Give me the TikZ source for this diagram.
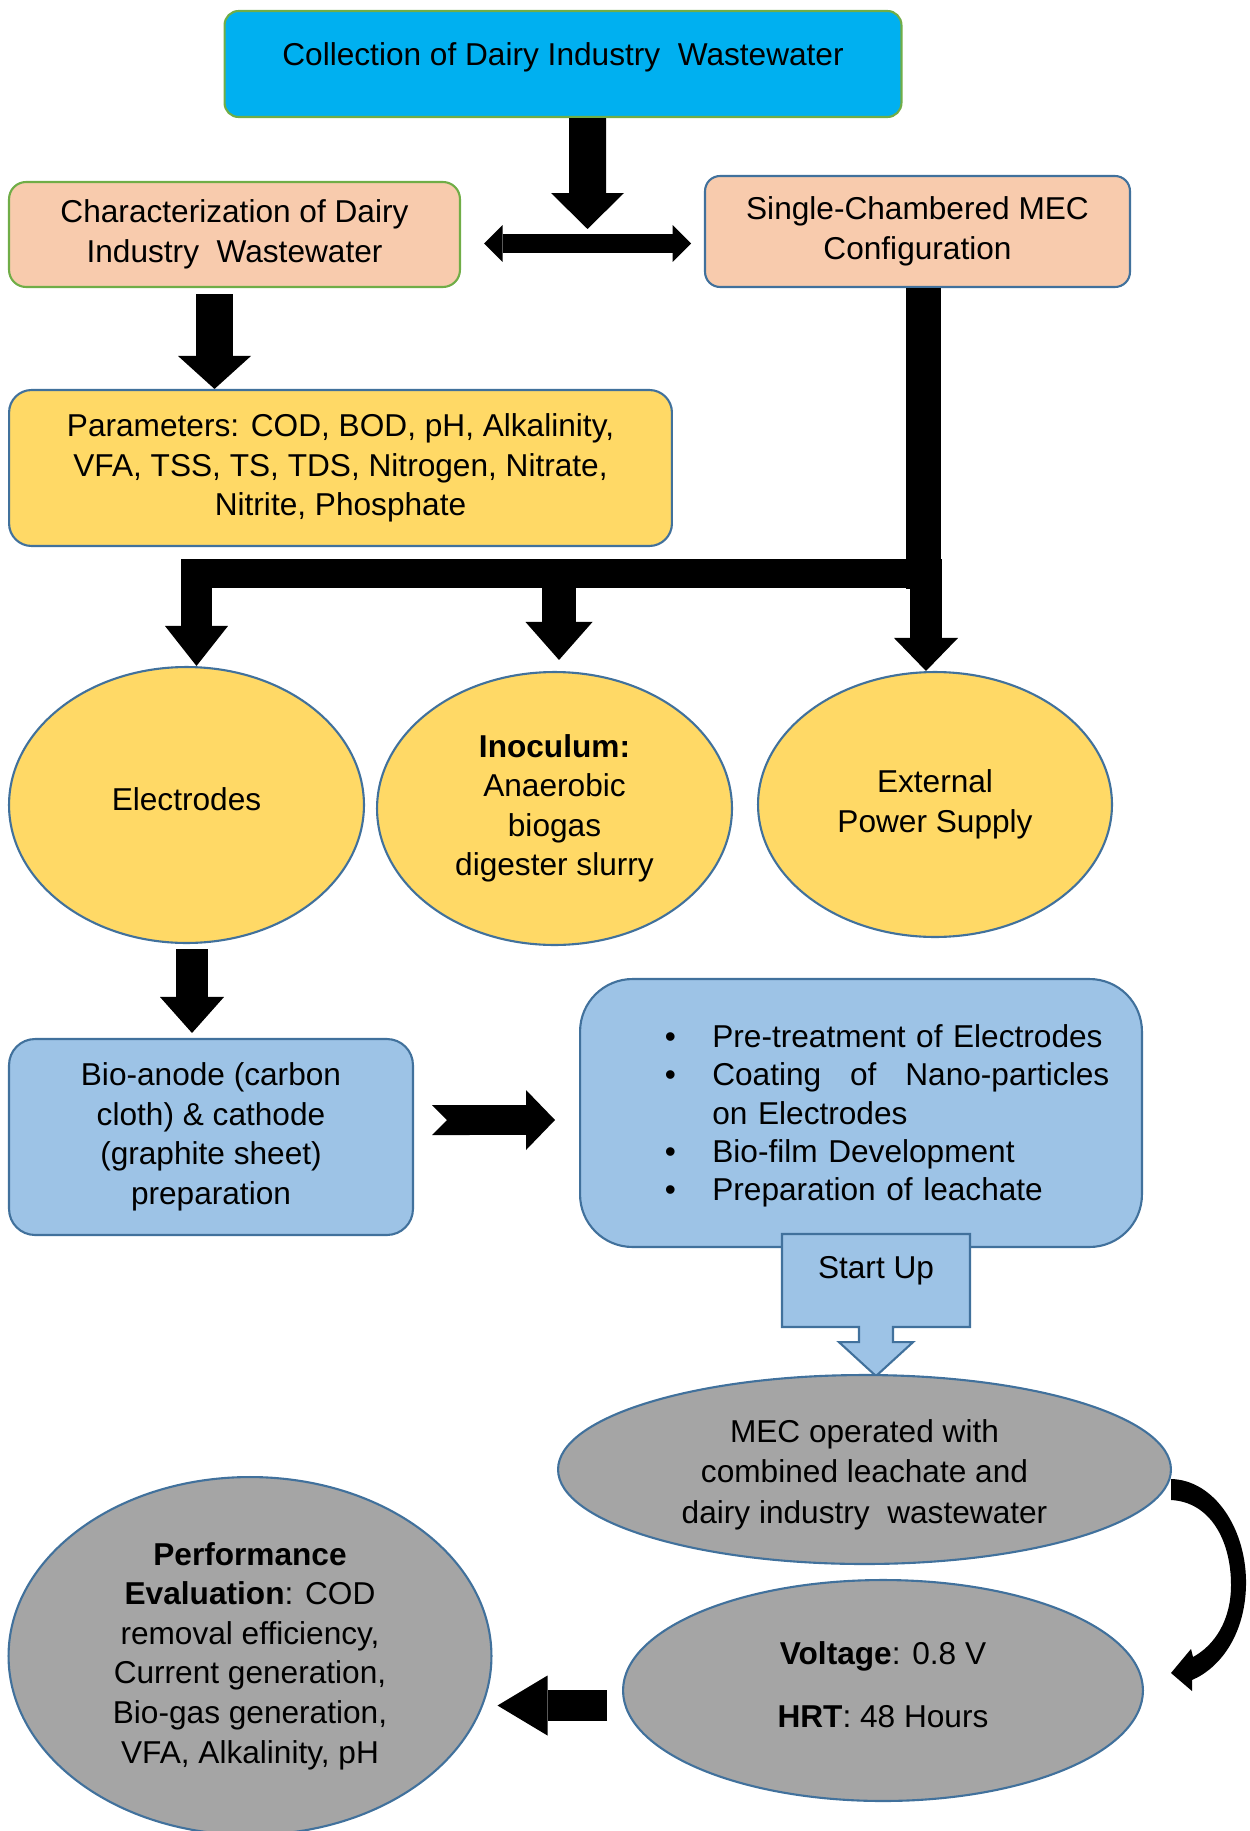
\documentclass[tikz,border=0pt]{standalone}
\usepackage{fontspec}
\setmainfont{Liberation Sans}
\usetikzlibrary{arrows.meta, shapes.geometric, shapes.arrows}
\definecolor{cyanbox}{HTML}{00B0F0}
\definecolor{greenline}{HTML}{70AD47}
\definecolor{peach}{HTML}{F8CBAD}
\definecolor{blueline}{HTML}{41719C}
\definecolor{yellowbox}{HTML}{FFD966}
\definecolor{lightblue}{HTML}{9DC3E6}
\definecolor{greybox}{HTML}{A5A5A5}

\tikzset{
  every node/.style={font=\fontsize{18}{22.5}\selectfont},
  box/.style={draw=blueline, line width=1.2pt, align=center, inner sep=0pt, rounded corners=#1},
  box/.default=0.3cm,
  oval/.style={ellipse, draw=blueline, line width=1.2pt, align=center, inner sep=0pt},
  bar/.style={line width=#1, line cap=butt},
  blk/.style args={#1/#2/#3}{line width=#1, -{Triangle[length=#3, width=#2, line width=0pt]}},
  dbl/.style={line width=0.38cm, {Triangle[length=0.37cm, width=0.74cm, line width=0pt]}-{Triangle[length=0.37cm, width=0.74cm, line width=0pt]}}
}
\newcommand{\stepbul}{\leavevmode\llap{\textbullet\hspace{0.73cm}}}
\newcommand{\liftup}[2]{\raisebox{#1}[\height][\depth]{#2}}

\begin{document}
\begin{tikzpicture}[x=0.02cm, y=-0.02cm]
\useasboundingbox (0,0) rectangle (1249,1831);

% top row
\node[box=0.28cm, draw=greenline, fill=cyanbox, minimum width=13.54cm, minimum height=2.12cm] (collect) at (563,64) {\liftup{0.14cm}{Collection of Dairy Industry\ \ Wastewater}};
\node[box=0.34cm, draw=greenline, fill=peach, minimum width=9.02cm, minimum height=2.1cm] (charac) at (234.5,234.5) {Characterization of Dairy\\Industry\ \ Wastewater};
\node[box=0.3cm, fill=peach, minimum width=8.5cm, minimum height=2.22cm] (config) at (917.5,231.5) {Single-Chambered MEC\\Configuration};
\node[box=0.45cm, fill=yellowbox, minimum width=13.26cm, minimum height=3.12cm] (params) at (340.5,468) {Parameters: COD, BOD, pH, Alkalinity,\\VFA, TSS, TS, TDS, Nitrogen,\ Nitrate,\\Nitrite, Phosphate};

% ellipses
\node[oval, fill=yellowbox, minimum width=7.1cm, minimum height=5.52cm] (elec) at (186.5,805) {\liftup{0.12cm}{Electrodes}};
\node[oval, fill=yellowbox, minimum width=7.1cm, minimum height=5.46cm] (inoc) at (554.5,808.5) {\textbf{Inoculum:}\\Anaerobic\\biogas\\digester slurry};
\node[oval, fill=yellowbox, minimum width=7.08cm, minimum height=5.3cm] (ext) at (935,804.5) {External\\Power Supply};

% electrode preparation
\node[box=0.52cm, fill=lightblue, minimum width=8.08cm, minimum height=3.92cm] (anode) at (211,1137) {Bio-anode (carbon\\cloth) \& cathode\\(graphite sheet)\\preparation};
\node[box=1.05cm, fill=lightblue, minimum width=11.24cm, minimum height=5.36cm] (steps) at (861,1113) {};
\node[text width=7.94cm, align=left, inner sep=0pt, anchor=west, font=\fontsize{18}{21.8}\selectfont] (steptext) at (712,1116) {\stepbul Pre-treatment\ of Electrodes\par
  \stepbul\makebox[7.94cm][s]{Coating\hfill of\hfill Nano-particles}\par
  on Electrodes\par
  \stepbul Bio-film Development\par
  \stepbul Preparation of leachate};
\node[arrow box, draw=blueline, line width=1.2pt, fill=lightblue, minimum width=3.76cm, minimum height=1.86cm,
  arrow box arrows={south:0.96cm}, arrow box shaft width=0.68cm, arrow box head extend=0.4cm,
  arrow box tip angle=95, inner sep=0pt] (startup) at (876,1280.5) {\liftup{0.2cm}{Start Up}};

% operation
\node[oval, fill=greybox, minimum width=12.26cm, minimum height=3.78cm] (mec) at (864.5,1469.5) {\liftup{-0.1cm}{\parbox{7.4cm}{\centering\fontsize{18}{23}\selectfont MEC operated with\\combined leachate and\\dairy industry\ \ wastewater}}};
\node[oval, fill=greybox, minimum width=10.4cm, minimum height=4.42cm] (volt) at (883,1690.5) {\liftup{0.12cm}{\textbf{Voltage}: 0.8 V}\\[0.48cm]\liftup{0.12cm}{\textbf{HRT}: 48 Hours}};
\node[oval, fill=greybox, minimum width=9.66cm, minimum height=7.16cm] (perf) at (250,1656) {\textbf{Performance}\\\textbf{Evaluation}: COD\\removal efficiency,\\Current generation,\\Bio-gas generation,\\VFA, Alkalinity, pH};

% arrows
\coordinate (split) at (587.5,229);
\coordinate (dl) at (484,243.5);
\coordinate (dr) at (691,243.5);
\draw[blk=0.74cm/1.46cm/0.72cm] ([xshift=0.49cm]collect.south) -- (split);
\draw[dbl] (dl) -- (dr);
\coordinate (c1) at ([xshift=-0.4cm, yshift=-0.12cm]charac.south);
\draw[blk=0.74cm/1.46cm/0.66cm] (c1) -- (c1 |- params.north);

\coordinate (busL) at (181,573.5);
\coordinate (busR) at (941,573.5);
\draw[bar=0.7cm] ([xshift=0.12cm]config.south) -- ++(0,301);
\draw[bar=0.58cm] (busL) -- (busR);
\coordinate (d1) at (196.5,559);
\coordinate (d2) at (559,559);
\coordinate (d3) at (926,559);
\draw[blk=0.62cm/1.26cm/0.8cm] (d1) -- (d1 |- elec.north);
\draw[blk=0.68cm/1.34cm/0.76cm] (d2) -- ([yshift=0.22cm]d2 |- inoc.north);
\draw[blk=0.64cm/1.28cm/0.66cm] (d3) -- (d3 |- ext.north);

\coordinate (c2) at ([xshift=0.11cm, yshift=-0.1cm]elec.south);
\draw[blk=0.64cm/1.28cm/0.72cm] (c2) -- ([yshift=0.1cm]c2 |- anode.north);

\coordinate (n1) at (432,1120);
\coordinate (n2) at (555,1120);
\draw[line width=0.6cm, {Triangle Cap[reversed]}-{Triangle[length=0.58cm, width=1.2cm, line width=0pt]}] (n1) -- (n2);

\coordinate (b1) at (607,1705.5);
\draw[blk=0.62cm/1.2cm/1.0cm] (b1) -- ([xshift=0.1cm]b1 -| perf.east);

% curved arrow
\fill (1171,1479) .. controls (1215,1480) and (1247,1530) .. (1246,1585)
  .. controls (1245,1635) and (1220,1668) .. (1192,1680) -- (1192,1691) -- (1171,1673)
  -- (1191,1649) -- (1193,1657) .. controls (1215,1645) and (1231,1620) .. (1231,1585)
  .. controls (1231,1540) and (1210,1502) .. (1171,1500) -- cycle;
\end{tikzpicture}
\end{document}
